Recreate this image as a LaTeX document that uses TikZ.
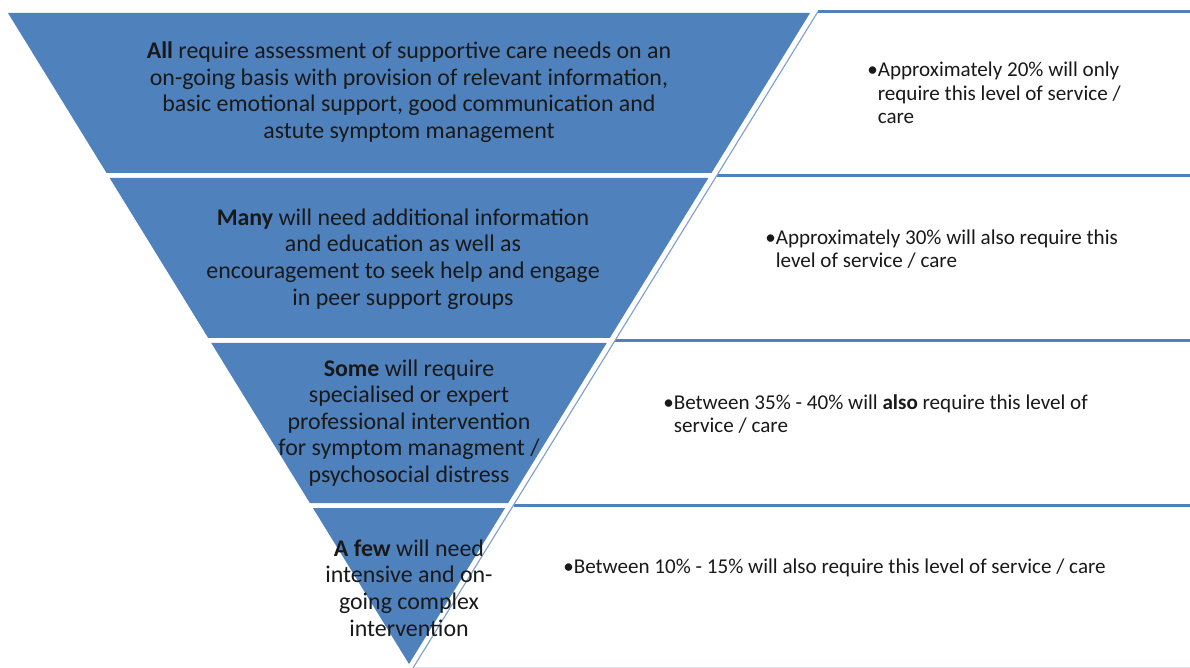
\documentclass[tikz,border=0pt]{standalone}
\usepackage{fontspec}
\setmainfont{Carlito}
\usepackage{tikz}
\usetikzlibrary{positioning}
\definecolor{pyrblue}{HTML}{4F81BD}
\definecolor{edgeblue}{HTML}{7E9FCD}
\definecolor{faintblue}{HTML}{DCE6F2}
\tikzstyle{band}=[fill=pyrblue]
\tikzstyle{topline}=[draw=pyrblue,line width=2.6pt]
\tikzstyle{edge}=[draw=edgeblue,line width=0.8pt]
\tikzstyle{bandtext}=[align=center,inner sep=0pt,text=black!90,font=\fontsize{17}{18.9}\selectfont]
\tikzstyle{notetext}=[align=left,anchor=base west,inner sep=0pt,text=black!90,font=\fontsize{15}{17}\selectfont]
\newcommand{\ind}{\phantom{\textbullet}}

\begin{document}
\begin{tikzpicture}[x=0.025cm,y=-0.025cm]
\useasboundingbox (0,0) rectangle (1190,668);
\clip (0,0) rectangle (1190,668);
% the four bands of the inverted pyramid
\foreach \t/\b in {13/173,178/338,343/503,508/664}
  \fill[band] ({8+0.616*(\t-13)},\t) -- ({810-0.616*(\t-13)},\t)
    -- ({810-0.616*(\b-13)},\b) -- ({8+0.616*(\b-13)},\b) -- cycle;
% boxes on the right
\foreach \t in {11.5,175.5,340.5,505.5}
  \draw[topline] ({818-0.616*(\t-11.5)},\t) -- (1195,\t);
\draw[edge] (818,11.5) -- (413,668);
\draw[faintblue,line width=0.6pt] (414,667) -- (1195,667);

\node[bandtext] (all) at (409,92) {\textbf{All} require assessment of supportive care needs on an\\on-going basis with provision of relevant information,\\basic emotional support, good communication and\\astute symptom management};
\node[bandtext] (many) at (403,259) {\textbf{Many} will need additional information\\and education as well as\\encouragement to seek help and engage\\in peer support groups};
\node[bandtext] (some) at (409,423) {\textbf{Some} will require\\specialised or expert\\professional intervention\\for symptom managment /\\psychosocial distress};
\node[bandtext] (few) at (409,588) {\textbf{A few} will need\\intensive and on-\\going complex\\intervention};

% notes: the base anchor sits on the last line
\node[notetext] (note1) at (867,124) {\textbullet Approximately 20\% will only\\\ind require this level of service /\\\ind care};
\node[notetext] (note2) at (765,268) {\textbullet Approximately 30\% will also require this\\\ind level of service / care};
\node[notetext] (note3) at (663,433) {\textbullet Between 35\% - 40\% will \textbf{also} require this level of\\\ind service / care};
\node[notetext] (note4) at (563,573) {\textbullet Between 10\% - 15\% will also require this level of service / care};
\end{tikzpicture}
\end{document}
